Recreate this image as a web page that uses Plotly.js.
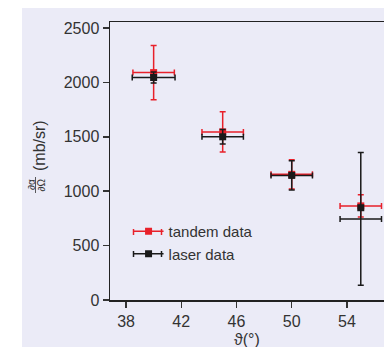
<!DOCTYPE html>
<html>
<head>
<meta charset="utf-8">
<script src="https://cdn.plot.ly/plotly-3.0.1.min.js"></script>
<style>
html,body{margin:0;padding:0;background:#fff;overflow:hidden;width:384px;height:347px;}
#chart{position:absolute;left:22px;top:8px;width:388px;height:339px;}
</style>
</head>
<body>
<div id="chart"></div>
<script>
// Data
var tandemAngle = [40, 45, 50, 55];
var tandemValue = [2090, 1545, 1155, 865];
var tandemErrY  = [250, 185, 135, 103];
var tandemErrX  = [1.5, 1.5, 1.5, 1.5];

var laserAngle = [40, 45, 50, 55];
var laserValue = [2045, 1500, 1145, 848];
var laserErrY  = [50, 67, 135, NaN];
var laserErrX  = [1.55, 1.5, 1.5, NaN];

// the last laser point's error bars are drawn around a different centre
var laserBarAngle = [55];
var laserBarValue = [745];
var laserBarErrY  = [610];
var laserBarErrX  = [1.5];

var xTicks = [38, 42, 46, 50, 54];
var yTicks = [0, 500, 1000, 1500, 2000, 2500];

var red = '#e8202a';
var black = '#1a1a1a';
var textColor = '#333333';

var traces = [
  {
    x: tandemAngle, y: tandemValue, mode: 'markers', type: 'scatter',
    marker: {symbol: 'square', size: 7, color: red},
    error_y: {type: 'data', array: tandemErrY, color: red, thickness: 1.5, width: 3},
    error_x: {type: 'data', array: tandemErrX, color: red, thickness: 1.5, width: 3},
    showlegend: false, hoverinfo: 'skip'
  },
  {
    x: laserBarAngle, y: laserBarValue, mode: 'markers', type: 'scatter',
    marker: {symbol: 'square', size: 7, color: black, opacity: 0},
    error_y: {type: 'data', array: laserBarErrY, color: black, thickness: 1.5, width: 3},
    error_x: {type: 'data', array: laserBarErrX, color: black, thickness: 1.5, width: 3},
    showlegend: false, hoverinfo: 'skip'
  },
  {
    x: laserAngle, y: laserValue, mode: 'markers', type: 'scatter',
    marker: {symbol: 'square', size: 7, color: black},
    error_y: {type: 'data', array: laserErrY, color: black, thickness: 1.5, width: 3},
    error_x: {type: 'data', array: laserErrX, color: black, thickness: 1.5, width: 3},
    showlegend: false, hoverinfo: 'skip'
  },
  {
    x: [null], y: [null], mode: 'lines+markers', type: 'scatter', name: 'tandem data',
    line: {color: red, width: 1.5}, marker: {symbol: 'square', size: 7, color: red}
  },
  {
    x: [null], y: [null], mode: 'lines+markers', type: 'scatter', name: 'laser data',
    line: {color: black, width: 1.5}, marker: {symbol: 'square', size: 7, color: black}
  }
];

var L = 110, B = 300, W = 290, H = 278;
function px(sx){ return (sx - L) / W; }
function py(sy){ return (B - sy) / H; }

function cap(sx, sy, color){
  return {type: 'line', xref: 'paper', yref: 'paper', x0: px(sx), x1: px(sx),
          y0: py(sy - 3), y1: py(sy + 3), line: {color: color, width: 1.5}};
}

var layout = {
  width: 388, height: 339,
  margin: {l: 88, r: 10, t: 14, b: 47, pad: 0},
  paper_bgcolor: '#ebebf7',
  plot_bgcolor: '#ebebf7',
  font: {family: '"Liberation Sans", Arial, sans-serif', color: textColor},
  xaxis: {
    range: [36.84, 57.84], tickvals: xTicks, ticktext: xTicks.map(String),
    ticks: 'outside', ticklen: 6, tickwidth: 1.5, tickcolor: '#333',
    showline: true, linecolor: '#222', linewidth: 1.5, mirror: true,
    showgrid: false, zeroline: false,
    tickfont: {size: 16, color: textColor}
  },
  yaxis: {
    range: [0, 2555], tickvals: yTicks, ticktext: yTicks.map(String),
    ticks: 'outside', ticklen: 6, tickwidth: 1.5, tickcolor: '#333',
    showline: true, linecolor: '#222', linewidth: 1.5, mirror: false,
    showgrid: false, zeroline: false,
    tickfont: {size: 16, color: textColor}
  },
  showlegend: true,
  legend: {
    x: 0.064, y: 0.306, xanchor: 'left', yanchor: 'top',
    bgcolor: 'rgba(0,0,0,0)', font: {size: 15, color: textColor},
    tracegroupgap: 0
  },
  annotations: [
    {xref: 'paper', yref: 'paper', x: px(247), y: py(339), text: 'ϑ(°)', showarrow: false,
     xanchor: 'center', yanchor: 'middle', font: {size: 16, color: textColor}},
    {xref: 'paper', yref: 'paper', x: px(39), y: py(146), text: '(mb/sr)', showarrow: false,
     textangle: -90, xanchor: 'center', yanchor: 'middle', font: {size: 16, color: textColor}},
    {xref: 'paper', yref: 'paper', x: px(31), y: py(185), text: '∂α', showarrow: false,
     textangle: -90, xanchor: 'center', yanchor: 'middle', font: {size: 10, color: textColor}},
    {xref: 'paper', yref: 'paper', x: px(40.5), y: py(185), text: '∂Ω', showarrow: false,
     textangle: -90, xanchor: 'center', yanchor: 'middle', font: {size: 10, color: textColor}}
  ],
  shapes: [
    {type: 'line', xref: 'paper', yref: 'paper', x0: px(35.5), x1: px(35.5), y0: py(177), y1: py(193),
     line: {color: textColor, width: 0.8}},
    cap(133.5, 232, red), cap(161.5, 232, red),
    cap(133.5, 254, black), cap(161.5, 254, black)
  ]
};

Plotly.newPlot('chart', traces, layout, {displayModeBar: false, staticPlot: true});
</script>
</body>
</html>
